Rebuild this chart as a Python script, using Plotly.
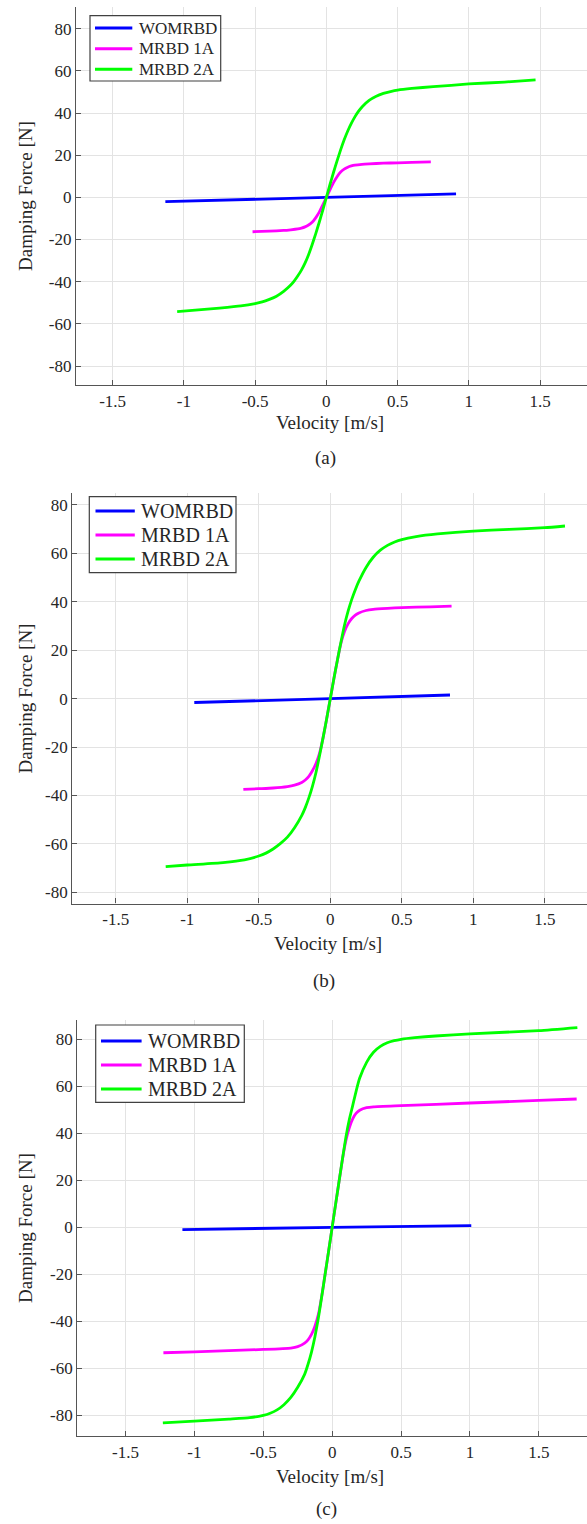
import plotly.graph_objects as go

# ---- data: damping force [N] vs velocity [m/s] ----
# panel (a)
vel_a_wo = [-1.13, 0.0, 0.91]
force_a_wo = [-2.05, 0.0, 1.7]
vel_a_1a = [-0.518, -0.4, -0.3, -0.25, -0.2, -0.175, -0.15, -0.125, -0.1, -0.075, -0.05, -0.025, 0.0,
            0.025, 0.05, 0.075, 0.1, 0.125, 0.15, 0.175, 0.2, 0.25, 0.3, 0.4, 0.5, 0.6, 0.733]
force_a_1a = [-16.3, -16.0, -15.7, -15.4, -15.0, -14.6, -14.0, -13.1, -11.8, -9.7, -7.0, -3.6, 0.0,
              3.6, 7.0, 9.8, 12.0, 13.4, 14.3, 14.9, 15.3, 15.7, 15.9, 16.2, 16.4, 16.6, 16.8]
vel_a_2a = [-1.047, -0.75, -0.6, -0.5, -0.45, -0.4, -0.35, -0.3, -0.25, -0.225, -0.2, -0.175, -0.15,
            -0.125, -0.1, -0.075, -0.05, -0.025, 0.0, 0.025, 0.05, 0.075, 0.1, 0.125, 0.15, 0.175,
            0.2, 0.225, 0.25, 0.3, 0.35, 0.4, 0.45, 0.5, 0.6, 0.75, 1.0, 1.25, 1.468]
force_a_2a = [-54.2, -52.5, -51.5, -50.4, -49.6, -48.4, -46.9, -44.6, -41.6, -39.6, -37.2, -34.5, -31.2,
              -27.2, -22.5, -17.3, -11.8, -6.0, 0.0, 6.0, 11.8, 17.3, 22.5, 27.3, 31.5, 35.1,
              38.2, 40.8, 42.9, 46.0, 48.0, 49.3, 50.2, 50.9, 51.7, 52.5, 53.8, 54.7, 55.7]

# panel (b)
vel_b_wo = [-0.951, 0.0, 0.837]
force_b_wo = [-1.6, 0.0, 1.5]
vel_b_1a = [-0.608, -0.5, -0.4, -0.3, -0.25, -0.2, -0.175, -0.15, -0.125, -0.1, -0.075, -0.05, -0.025, 0.0,
            0.025, 0.05, 0.075, 0.1, 0.125, 0.15, 0.175, 0.2, 0.25, 0.3, 0.4, 0.5, 0.7, 0.848]
force_b_1a = [-37.5, -37.2, -36.9, -36.3, -35.7, -34.6, -33.6, -32.1, -29.8, -26.8, -22.5, -16.0, -8.2, 0.0,
              8.2, 16.0, 23.0, 27.8, 31.0, 33.1, 34.5, 35.4, 36.4, 36.9, 37.3, 37.6, 37.9, 38.2]
vel_b_2a = [-1.151, -1.0, -0.75, -0.6, -0.5, -0.45, -0.4, -0.35, -0.3, -0.25, -0.2, -0.175, -0.15,
            -0.125, -0.1, -0.075, -0.05, -0.025, 0.0, 0.025, 0.05, 0.075, 0.1, 0.125, 0.15, 0.175,
            0.2, 0.25, 0.3, 0.35, 0.4, 0.45, 0.5, 0.6, 0.75, 1.0, 1.25, 1.5, 1.641]
force_b_2a = [-69.4, -68.7, -67.7, -66.6, -65.0, -63.8, -62.1, -59.9, -57.2, -53.3, -48.3, -45.0, -41.0,
              -36.2, -30.5, -23.5, -16.0, -8.2, 0.0, 8.2, 16.0, 23.5, 30.5, 36.2, 41.0, 45.0,
              48.5, 54.2, 58.4, 61.3, 63.3, 64.7, 65.7, 66.9, 68.0, 69.2, 69.9, 70.6, 71.3]

# panel (c)
vel_c_wo = [-1.087, 0.0, 1.01]
force_c_wo = [-0.9, 0.0, 0.8]
vel_c_1a = [-1.225, -1.0, -0.5, -0.3, -0.25, -0.2, -0.175, -0.15, -0.125, -0.1, -0.075, -0.05, -0.025, 0.0,
            0.025, 0.05, 0.075, 0.1, 0.125, 0.15, 0.175, 0.2, 0.25, 0.3, 0.5, 1.0, 1.5, 1.775]
force_c_1a = [-53.3, -52.9, -51.9, -51.3, -50.7, -49.2, -47.8, -45.5, -42.0, -37.0, -29.0, -19.5, -9.8, 0.0,
              9.8, 19.5, 29.0, 37.0, 42.5, 46.3, 48.6, 49.8, 50.9, 51.3, 51.8, 52.9, 54.0, 54.6]
vel_c_2a = [-1.229, -1.0, -0.75, -0.6, -0.5, -0.45, -0.4, -0.35, -0.3, -0.25, -0.2, -0.175, -0.15,
            -0.125, -0.1, -0.075, -0.05, -0.025, 0.0, 0.025, 0.05, 0.075, 0.1, 0.125, 0.15, 0.175,
            0.2, 0.25, 0.3, 0.35, 0.4, 0.45, 0.5, 0.6, 0.75, 1.0, 1.5, 1.78]
force_c_2a = [-83.1, -82.4, -81.5, -80.9, -79.9, -79.0, -77.6, -75.4, -72.3, -68.0, -62.5, -58.2, -53.0,
              -46.5, -38.5, -29.2, -19.5, -9.8, 0.0, 9.8, 19.5, 29.2, 38.5, 46.0, 52.0, 58.2,
              63.5, 70.2, 74.5, 77.0, 78.5, 79.4, 80.0, 80.7, 81.4, 82.3, 83.7, 85.0]

series_names = ["WOMRBD", "MRBD 1A", "MRBD 2A"]
panel_labels = ["(a)", "(b)", "(c)"]
x_tick_vals = [-1.5, -1.0, -0.5, 0.0, 0.5, 1.0, 1.5]
x_tick_text = ["-1.5", "-1", "-0.5", "0", "0.5", "1", "1.5"]
y_tick_vals = [-80, -60, -40, -20, 0, 20, 40, 60, 80]
y_tick_text = ["-80", "-60", "-40", "-20", "0", "20", "40", "60", "80"]

# ---- layout geometry (pixels) ----
W, H = 587, 1524
FONT = "Liberation Serif, Times New Roman, serif"
TXT = "#262626"
AX = "#555555"
GRID = "#e3e3e3"
colors = ["#0000ff", "#ff00ff", "#00ff00"]

panels = [
    dict(data=[(vel_a_wo, force_a_wo), (vel_a_1a, force_a_1a), (vel_a_2a, force_a_2a)],
         left=76, top=7, bottom=385, xr=[-1.757, 1.829], yr=[-89.0, 90.3],
         box=(90, 15.7, 220.7, 81.0), line=(95, 132.3), text_x=136.5,
         rows=(28.0, 48.7, 69.3), legfont=17, xlab=423, plab=458),
    dict(data=[(vel_b_wo, force_b_wo), (vel_b_1a, force_b_1a), (vel_b_2a, force_b_2a)],
         left=72.3, top=493.3, bottom=903.5, xr=[-1.804, 1.795], yr=[-84.6, 84.8],
         box=(89.3, 496.7, 236.0, 572.7), line=(95.5, 134.8), text_x=138.5,
         rows=(511.0, 535.0, 559.0), legfont=20, xlab=943, plab=981),
    dict(data=[(vel_c_wo, force_c_wo), (vel_c_1a, force_c_1a), (vel_c_2a, force_c_2a)],
         left=77.3, top=1020, bottom=1436, xr=[-1.85, 1.85], yr=[-88.7, 88.2],
         box=(95.7, 1025.0, 244.3, 1102.3), line=(101.0, 141.6), text_x=145.5,
         rows=(1041.0, 1065.0, 1089.0), legfont=20, xlab=1476, plab=1509),
]


def px(v):
    return v / W


def py(v):
    return 1 - v / H


fig = go.Figure()
annotations = []
shapes = []

for i, p in enumerate(panels):
    sfx = "" if i == 0 else str(i + 1)
    for j, (vx, fy) in enumerate(p["data"]):
        fig.add_trace(go.Scatter(
            x=vx, y=fy, mode="lines", name=series_names[j], showlegend=False,
            line=dict(color=colors[j], width=2.8, shape="spline", smoothing=0.5),
            xaxis="x" + sfx, yaxis="y" + sfx,
        ))

    common = dict(showgrid=True, gridcolor=GRID, gridwidth=1, zeroline=False,
                  showline=True, linecolor=AX, linewidth=1.3, ticks="inside",
                  ticklen=5, tickcolor=AX, tickwidth=1,
                  tickfont=dict(family=FONT, size=17, color=TXT), mirror=False)
    fig.update_layout(**{
        "xaxis" + sfx: dict(common, domain=[px(p["left"]), 1.0], range=p["xr"],
                            anchor="y" + sfx, tickvals=x_tick_vals,
                            ticktext=x_tick_text),
        "yaxis" + sfx: dict(common, domain=[py(p["bottom"]), py(p["top"])],
                            range=p["yr"], anchor="x" + sfx,
                            tickvals=y_tick_vals, ticktext=y_tick_text),
    })

    # legend box with line samples
    x0, y0, x1, y1 = p["box"]
    shapes.append(dict(type="rect", xref="paper", yref="paper",
                       x0=px(x0), x1=px(x1), y0=py(y1), y1=py(y0),
                       line=dict(color="#404040", width=1.2), fillcolor="white",
                       layer="above"))
    for j, ry in enumerate(p["rows"]):
        shapes.append(dict(type="line", xref="paper", yref="paper",
                           x0=px(p["line"][0]), x1=px(p["line"][1]),
                           y0=py(ry), y1=py(ry),
                           line=dict(color=colors[j], width=3), layer="above"))
        annotations.append(dict(text=series_names[j], x=px(p["text_x"]), y=py(ry),
                                xref="paper", yref="paper", showarrow=False,
                                xanchor="left", yanchor="middle",
                                font=dict(family=FONT, size=p["legfont"], color=TXT)))

    cy = (p["top"] + p["bottom"]) / 2
    annotations.append(dict(text="Damping Force [N]", x=px(25), y=py(cy),
                            xref="paper", yref="paper", showarrow=False,
                            textangle=-90, xanchor="center", yanchor="middle",
                            font=dict(family=FONT, size=19, color=TXT)))
    cx = (p["left"] + W) / 2
    annotations.append(dict(text="Velocity [m/s]", x=px(cx - 2), y=py(p["xlab"]),
                            xref="paper", yref="paper", showarrow=False,
                            xanchor="center", yanchor="middle",
                            font=dict(family=FONT, size=19, color=TXT)))
    annotations.append(dict(text=panel_labels[i], x=px(cx - 6), y=py(p["plab"]),
                            xref="paper", yref="paper", showarrow=False,
                            xanchor="center", yanchor="middle",
                            font=dict(family=FONT, size=19, color=TXT)))

fig.update_layout(width=W, height=H, margin=dict(l=0, r=0, t=0, b=0),
                  paper_bgcolor="white", plot_bgcolor="white",
                  annotations=annotations, shapes=shapes, showlegend=False)

fig.write_html("out.html")
